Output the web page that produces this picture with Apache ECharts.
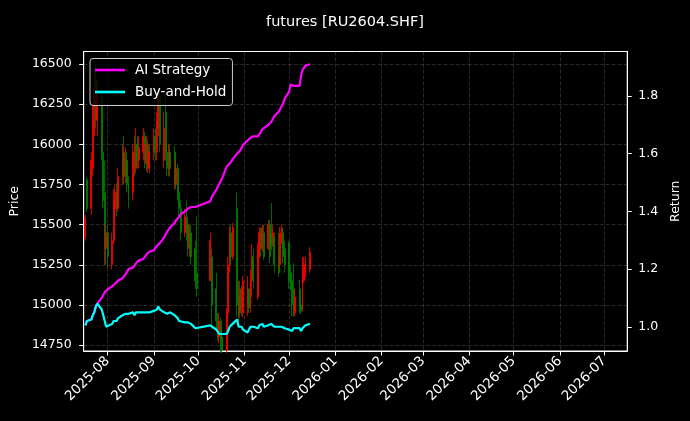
<!DOCTYPE html>
<html>
<head>
<meta charset="utf-8">
<script src="https://cdn.jsdelivr.net/npm/echarts@6/dist/echarts.min.js"></script>
<style>
html,body{margin:0;padding:0;background:#000;}
#chart{width:690px;height:421px;}
</style>
</head>
<body>
<div id="chart"></div>
<script>
const titleText = 'futures [RU2604.SHF]';
const dates = [
'2025-07-17','2025-07-18','2025-07-21','2025-07-22','2025-07-23','2025-07-24','2025-07-25','2025-07-28','2025-07-29','2025-07-30','2025-07-31',
'2025-08-01','2025-08-04','2025-08-05','2025-08-06','2025-08-07','2025-08-08','2025-08-11','2025-08-12','2025-08-13','2025-08-14','2025-08-15','2025-08-18','2025-08-19','2025-08-20','2025-08-21','2025-08-22','2025-08-25','2025-08-26','2025-08-27','2025-08-28','2025-08-29',
'2025-09-01','2025-09-02','2025-09-03','2025-09-04','2025-09-05','2025-09-08','2025-09-09','2025-09-10','2025-09-11','2025-09-12','2025-09-15','2025-09-16','2025-09-17','2025-09-18','2025-09-19','2025-09-22','2025-09-23','2025-09-24','2025-09-25','2025-09-26','2025-09-29','2025-09-30',
'2025-10-09','2025-10-10','2025-10-13','2025-10-14','2025-10-15','2025-10-16','2025-10-17','2025-10-20','2025-10-21','2025-10-22','2025-10-23','2025-10-24','2025-10-27','2025-10-28','2025-10-29','2025-10-30','2025-10-31',
'2025-11-03','2025-11-04','2025-11-05','2025-11-06','2025-11-07','2025-11-10','2025-11-11','2025-11-12','2025-11-13','2025-11-14','2025-11-17','2025-11-18','2025-11-19','2025-11-20','2025-11-21','2025-11-24','2025-11-25','2025-11-26','2025-11-27','2025-11-28',
'2025-12-01','2025-12-02','2025-12-03','2025-12-04','2025-12-05','2025-12-08','2025-12-09','2025-12-10','2025-12-11','2025-12-12','2025-12-15'
];
const open = [
15420,15780,15600,15850,16100,16400,16150,16300,15950,15700,15350,
15450,15250,15400,15600,15700,15600,15800,15950,15800,15900,15750,15700,15950,15850,16000,15900,15950,16050,15880,16000,15850,
15950,16050,15950,16100,16300,15900,16200,15950,15850,15950,15950,15750,15850,15700,15600,15450,15550,15500,15350,15450,15350,15200,
15150,15300,15100,14900,14800,14900,14800,14720,14950,15250,15450,15300,15600,15050,14950,15100,14950,
15000,15100,14980,15150,15300,15050,15300,15450,15350,15450,15350,15500,15450,15380,15420,15300,15250,15400,15450,15350,
15385,15200,15150,15100,14950,15100,15000,14980,15150,15200,15220
];
const close = [
15540,15600,15900,16150,16350,16150,16300,15950,15650,15350,15450,
15300,15400,15650,15700,15600,15800,15950,15800,15900,15750,15650,15950,15850,16000,15900,15980,16050,15900,16000,15850,15950,
16050,15950,16150,16300,16000,16100,15950,15850,15950,15850,15750,15850,15700,15600,15450,15550,15450,15350,15450,15300,15150,15100,
15400,15000,14900,14800,14900,14780,14720,14950,15250,15450,15300,15480,15000,14950,15100,14980,15150,
15150,14980,15150,15300,15150,15350,15450,15350,15480,15300,15500,15300,15380,15450,15250,15200,15450,15480,15300,15250,
15150,15100,15000,14950,15050,14980,14960,15200,15250,15280,15330
];
const low = [
15400,15580,15560,15800,16050,16100,16050,15900,15600,15250,15250,
15230,15220,15380,15550,15550,15580,15750,15750,15760,15700,15600,15650,15800,15820,15850,15850,15900,15850,15830,15820,15820,
15900,15900,15900,16050,15950,15850,15900,15800,15800,15800,15720,15720,15650,15550,15400,15420,15400,15300,15300,15250,15100,15050,
15150,14850,14840,14780,14760,14700,14700,14700,14900,15200,15250,15280,14930,14900,14920,14930,14920,
14930,14950,14950,15050,15100,15030,15290,15300,15330,15280,15340,15260,15340,15360,15200,15173,15230,15380,15260,15200,
15100,15090,14930,14925,14930,14950,14940,14960,15136,15173,15200
];
const high = [
15560,15790,15950,16250,16450,16500,16400,16350,16000,15900,15500,
15500,15450,15720,15750,15760,15850,16000,16050,15980,15950,15800,16000,16050,16100,16050,16050,16100,16080,16050,16030,16000,
16100,16100,16200,16350,16350,16200,16320,16000,16000,16000,15990,15900,15880,15750,15650,15600,15650,15550,15500,15500,15400,15550,
15450,15350,15200,14950,14950,14920,14850,14980,15300,15490,15500,15510,15700,15150,15150,15120,15180,
15180,15100,15220,15380,15350,15385,15485,15480,15500,15500,15528,15530,15634,15500,15450,15447,15485,15500,15480,15400,
15400,15250,15200,15260,15100,15155,15050,15298,15298,15298,15360
];
const aiReturn = [
1.005,1.02,1.025,1.04,1.05,1.07,1.08,1.10,1.11,1.12,1.125,
1.13,1.14,1.145,1.15,1.155,1.16,1.168,1.175,1.18,1.19,1.20,1.205,1.21,1.22,1.225,1.23,1.235,1.24,1.25,1.255,1.26,
1.265,1.27,1.28,1.285,1.29,1.31,1.32,1.33,1.335,1.345,1.36,1.37,1.375,1.38,1.39,1.40,1.405,1.41,1.41,1.415,1.415,1.418,
1.435,1.45,1.475,1.485,1.495,1.505,1.515,1.555,1.56,1.565,1.57,1.58,1.60,1.605,1.61,1.615,1.63,
1.645,1.65,1.655,1.658,1.66,1.66,1.665,1.675,1.685,1.69,1.70,1.705,1.71,1.72,1.73,1.745,1.755,1.765,1.775,1.79,
1.815,1.84,1.845,1.835,1.83,1.835,1.87,1.89,1.895,1.905,1.91
];
const bhReturn = [
1.005,1.02,1.025,1.04,1.05,1.07,1.08,1.06,1.04,1.02,1.00,
1.00,1.01,1.02,1.025,1.02,1.03,1.04,1.035,1.045,1.04,1.045,1.05,1.04,1.05,1.045,1.05,1.05,1.045,1.05,1.045,1.05,
1.055,1.05,1.06,1.07,1.06,1.05,1.055,1.045,1.05,1.05,1.04,1.045,1.03,1.02,1.02,1.015,1.02,1.015,1.02,1.01,0.995,0.99,
1.005,1.00,0.99,0.985,0.975,0.97,0.975,0.975,0.985,1.00,1.005,1.01,1.025,1.00,0.995,1.0,0.99,
0.98,0.985,1.0,1.005,1.0,0.995,1.005,1.0,1.01,1.0,1.005,1.0,1.01,1.005,1.0,1.0,1.005,1.0,1.0,0.995,
0.99,0.995,0.985,0.995,0.99,0.995,0.985,0.995,1.0,1.005,1.01
];
const priceTicks = [14750,15000,15250,15500,15750,16000,16250,16500];
const returnTicks = [1.0,1.2,1.4,1.6,1.8];
const monthTicks = ['2025-08-01','2025-09-01','2025-10-01','2025-11-01','2025-12-01','2026-01-01','2026-02-01','2026-03-01','2026-04-01','2026-05-01','2026-06-01','2026-07-01'];
const seriesNames = ['AI Strategy','Buy-and-Hold'];

function ts(s){ return new Date(s + 'T00:00:00').getTime(); }
const HOUR = 3600000;
const xMin = ts('2025-07-15') + 20*HOUR;
const xMax = ts('2026-07-16') + 8*HOUR;
const monthTickTs = monthTicks.map(ts);

const candleData = dates.map((d,i)=>[ts(d), open[i], close[i], low[i], high[i]]);
const aiData = dates.map((d,i)=>[ts(d), aiReturn[i]]);
const bhData = dates.map((d,i)=>[ts(d), bhReturn[i]]);

function fmtMonth(v){
  const d = new Date(v);
  const m = d.getMonth()+1;
  return d.getFullYear() + '-' + (m<10?'0':'') + m;
}

const FONT = 'DejaVu Sans';
const gridLine = {show:true, lineStyle:{color:'rgba(150,150,150,0.45)', width:0.6, type:[4,2]}};

const chart = echarts.init(document.getElementById('chart'), null, {renderer:'canvas'});
chart.setOption({
  backgroundColor:'#000',
  animation:false,
  textStyle:{fontFamily:FONT},
  title:{text:titleText, left:'center', top:10, textStyle:{color:'#fff', fontSize:14.5, fontWeight:'normal', fontFamily:FONT}},
  grid:{left:83.5, right:61, top:51.5, bottom:70, show:true, borderColor:'#fff', borderWidth:1, backgroundColor:'transparent', containLabel:false},
  legend:{
    data:seriesNames, orient:'vertical', left:90, top:58.5,
    icon:'rect', itemWidth:30, itemHeight:2.6, itemGap:7,
    padding:[4,6,6,5],
    backgroundColor:'rgba(0,0,0,0.8)', borderColor:'#ccc', borderWidth:1, borderRadius:3,
    textStyle:{color:'#fff', fontSize:13.5, fontFamily:FONT, padding:[0,0,0,5], lineHeight:15}
  },
  xAxis:{
    type:'value', min:xMin, max:xMax, scale:true,
    axisLine:{show:true, onZero:false, lineStyle:{color:'#fff', width:1}},
    axisTick:{show:true, customValues:monthTickTs, length:4.5, lineStyle:{color:'#fff'}},
    axisLabel:{customValues:monthTickTs, rotate:45, color:'#fff', fontSize:13.5, fontFamily:FONT, margin:8,
      formatter:fmtMonth},
    splitLine:gridLine
  },
  yAxis:[{
    type:'value', position:'left', min:14713, max:16578,
    name:'Price', nameLocation:'middle', nameGap:58, nameRotate:90,
    nameTextStyle:{color:'#fff', fontSize:12.5, fontFamily:FONT},
    axisLine:{show:true, lineStyle:{color:'#fff'}},
    axisTick:{show:true, customValues:priceTicks, length:4.5, lineStyle:{color:'#fff'}},
    axisLabel:{customValues:priceTicks, color:'#fff', fontSize:12.5, fontFamily:FONT, margin:12,
      formatter:function(v){return String(Math.round(v));}},
    splitLine:gridLine
  },{
    type:'value', position:'right', min:0.916, max:1.954,
    name:'Return', nameLocation:'middle', nameGap:36, nameRotate:90,
    nameTextStyle:{color:'#fff', fontSize:12.5, fontFamily:FONT},
    axisLine:{show:true, lineStyle:{color:'#fff'}},
    axisTick:{show:true, customValues:returnTicks, length:4.5, lineStyle:{color:'#fff'}},
    axisLabel:{customValues:returnTicks, color:'#fff', fontSize:12.5, fontFamily:FONT, margin:11,
      formatter:function(v){return v.toFixed(1);}},
    splitLine:{show:false}
  }],
  series:[{
    type:'candlestick', name:'Price', data:candleData, xAxisIndex:0, yAxisIndex:0,
    barWidth:1.4, clip:true,
    itemStyle:{color:'#ff0000', color0:'#008000', borderColor:'#ff0000', borderColor0:'#008000', borderWidth:0.8},
    z:2
  },{
    type:'line', name:seriesNames[0], data:aiData, yAxisIndex:1, showSymbol:false, symbol:'none',
    lineStyle:{color:'#ff00ff', width:2.2}, itemStyle:{color:'#ff00ff'}, z:3
  },{
    type:'line', name:seriesNames[1], data:bhData, yAxisIndex:1, showSymbol:false, symbol:'none',
    lineStyle:{color:'#00ffff', width:2.2}, itemStyle:{color:'#00ffff'}, z:4
  }]
});
</script>
</body>
</html>
